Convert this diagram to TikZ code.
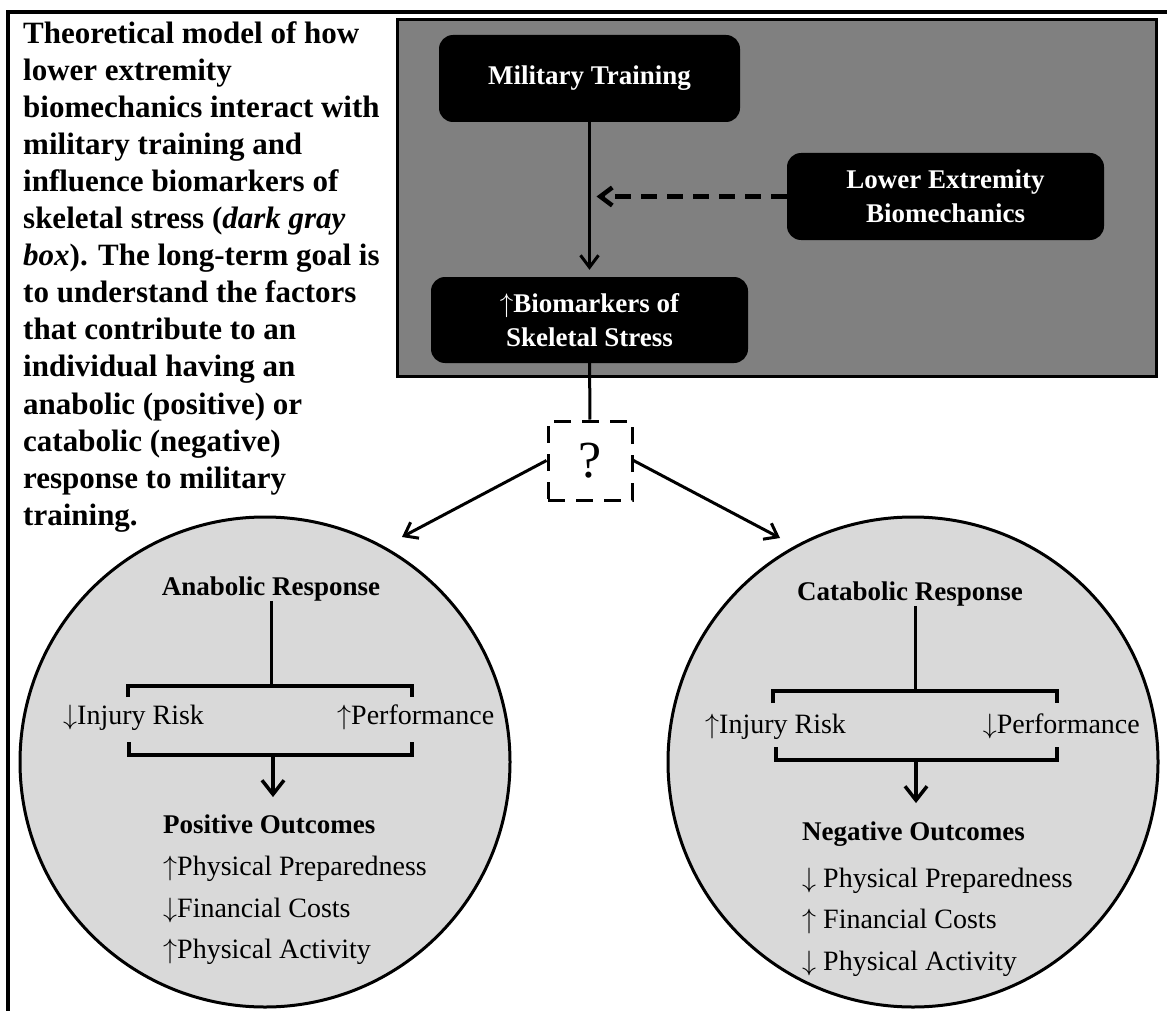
\RequirePackage{fix-cm}
\documentclass[tikz,border=0pt]{standalone}
\usepackage{fontspec}
\setmainfont{Liberation Serif}
\usetikzlibrary{arrows.meta, positioning, calc}
\definecolor{boxgray}{HTML}{808080}
\definecolor{circgray}{HTML}{D9D9D9}

\begin{document}
\begin{tikzpicture}[
  x=1pt, y=-1pt,
  blackbox/.style={rectangle, fill=black, rounded corners=14pt, text=white, align=center, inner sep=0pt, font=\bfseries\fontsize{27}{34}\selectfont},
  qbox/.style={rectangle, draw=black, line width=3pt, dash pattern=on 17pt off 11pt, minimum width=84pt, minimum height=79pt, inner sep=0pt, font=\fontsize{52}{52}\selectfont},
  circ/.style={circle, draw=black, line width=3pt, fill=circgray, minimum size=490pt, inner sep=0pt},
  head/.style={inner sep=0pt, font=\bfseries\fontsize{27}{32}\selectfont},
  item/.style={inner sep=0pt, font=\fontsize{28}{33}\selectfont},
  arrow/.style={-{Straight Barb[length=12pt, width=18pt]}, line width=3pt},
  bigarrow/.style={-{Straight Barb[length=14pt, width=22pt]}, line width=3.5pt},
  link/.style={line width=3pt},
  bracket/.style={line width=3.5pt}
]
  \useasboundingbox[fill=white] (0,0) rectangle (1167,1011);

  % frame and gray panel
  \draw[line width=4pt] (8,1011) -- (8,12) -- (1167,12);
  \draw[line width=3pt, fill=boxgray] (397,20) rectangle (1156,376);

  % caption
  \node[anchor=north west, inner sep=0pt, align=left, font=\bfseries\fontsize{31}{37.1}\selectfont] (caption) at (23,21) {Theoretical model of how\\lower extremity\\biomechanics interact with\\military training and\\influence biomarkers of\\skeletal stress (\textit{dark gray}\\\textit{box}). The long-term goal is\\to understand the factors\\that contribute to an\\individual having an\\anabolic (positive) or\\catabolic (negative)\\response to military\\training.};

  % boxes in the gray panel
  \node[blackbox, minimum width=301pt, minimum height=87pt] (train) at (589.5,78.5) {Military Training};
  \node[blackbox, minimum width=317pt, minimum height=87pt] (lowext) at (945.5,196.5) {Lower Extremity\\Biomechanics};
  \node[blackbox, minimum width=317pt, minimum height=86pt] (biomark) at (589.5,320) {$\uparrow$Biomarkers of\\Skeletal Stress};
  \node[qbox] (quest) at (590,460.5) {?};

  \draw[arrow, shorten >=7pt] (train) -- (biomark);
  \coordinate (meet) at ($(train.south |- lowext.west)+(7,0)$);
  \draw[arrow, line width=4.5pt, dash pattern=on 16pt off 10pt] (lowext.west) -- (meet);
  \draw[link] (biomark) -- (quest);

  % the two responses
  \node[circ] (lcirc) at (265,762) {};
  \node[circ] (rcirc) at (913,762) {};
  \coordinate (ltip) at (402,537);
  \coordinate (rtip) at (780,538);
  \draw[arrow] (quest.west) -- (ltip);
  \draw[arrow] (quest.east) -- (rtip);

  % anabolic
  \node[head, anchor=base] (anab) at (271,595) {Anabolic Response};
  \node[item, anchor=base west] (linj) at (63,724) {$\downarrow$Injury Risk};
  \node[item, anchor=base west] (lperf) at (337,724) {$\uparrow$Performance};
  \coordinate (ltop) at (270,686);
  \coordinate (lbot) at (273,755);
  \draw[link] (anab.south) -- (anab.south |- ltop);
  \draw[bracket] (128,697) -- (128,686) -- (412,686) -- (412,697);
  \draw[bracket] (129,742) -- (129,755) -- (412,755) -- (412,742);
  \node[head, anchor=base west] (lpos) at (163,833) {Positive Outcomes};
  \draw[bigarrow, shorten >=17pt] (lbot) -- (lbot |- lpos.north);
  \node[item, anchor=base west] (lprep) at (163,875) {$\uparrow$Physical Preparedness};
  \node[item, anchor=base west] (lcost) at (163,917) {$\downarrow$Financial Costs};
  \node[item, anchor=base west] (lact) at (163,958) {$\uparrow$Physical Activity};

  % catabolic
  \node[head, anchor=base] (catab) at (910,600) {Catabolic Response};
  \node[item, anchor=base west] (rinj) at (705,733) {$\uparrow$Injury Risk};
  \node[item, anchor=base east] (rperf) at (1140,733) {$\downarrow$Performance};
  \coordinate (rtop) at (915,691);
  \coordinate (rbot) at (916,760);
  \draw[link] (catab.south -| rtop) -- (rtop);
  \draw[bracket] (773,703) -- (773,691) -- (1057,691) -- (1057,703);
  \draw[bracket] (776,747) -- (776,760) -- (1057,760) -- (1057,747);
  \node[head, anchor=base west] (rneg) at (802,840) {Negative Outcomes};
  \draw[bigarrow, shorten >=18pt] (rbot) -- (rbot |- rneg.north);
  \node[item, anchor=base west] (rprep) at (802,887) {$\downarrow$ Physical Preparedness};
  \node[item, anchor=base west] (rcost) at (802,928) {$\uparrow$ Financial Costs};
  \node[item, anchor=base west] (ract) at (802,970) {$\downarrow$ Physical Activity};
\end{tikzpicture}
\end{document}
